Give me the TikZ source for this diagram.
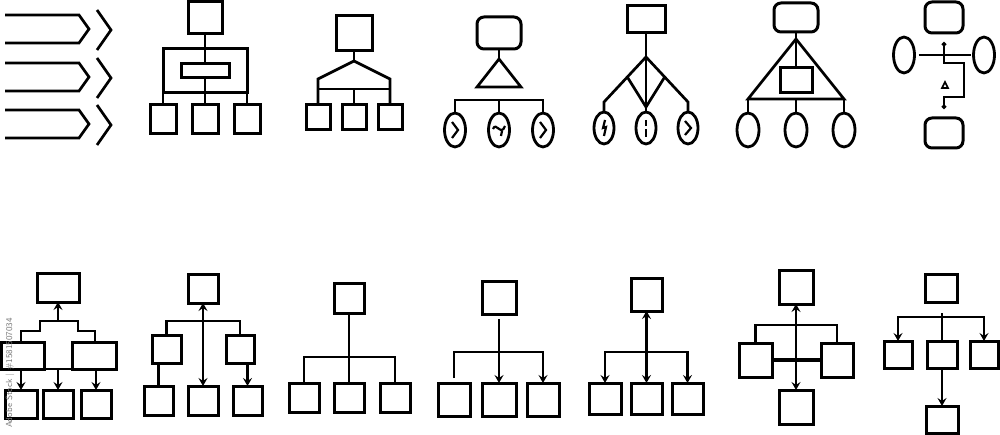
\documentclass[tikz,border=0pt]{standalone}
\usetikzlibrary{arrows.meta,shapes.geometric}
\newcommand\mkbox[6][bx]{\node[#1, minimum width={#5-#3}, minimum height={#6-#4}] (#2) at ({(#3+#5)/2},{(#4+#6)/2}) {};}
\definecolor{wmgray}{HTML}{7A7A7A}
\tikzset{
  bx/.style={draw, rectangle, line width=3pt, inner sep=0pt, outer sep=0pt},
  rbx/.style={bx, rounded corners=7pt},
  ell/.style={draw, ellipse, line width=2.8pt, inner sep=0pt, outer sep=0pt},
  ln/.style={line width=2.7pt, line join=miter},
  gl/.style={line width=2.2pt},
  tip/.tip={Stealth[length=8pt,width=9pt,inset=3pt]},
  arr/.style={ln, -tip},
  darr/.style={ln, tip-tip},
}
\begin{document}
\begin{tikzpicture}[x=1pt,y=-1pt]
\fill[white] (0,0) rectangle (1000,435);
\useasboundingbox (0,0) rectangle (1000,435);

% ---- icon 1: arrows
\foreach \y in {15,63,110}{
  \draw[ln] (5,\y) -- (79,\y) -- (89,\y+14) -- (79,\y+28) -- (5,\y+28);
  \draw[ln] (97,\y-5) -- (111,\y+15) -- (97,\y+35);
}

% ---- icon 2
\mkbox{b2t}{188}{2}{222}{34}
\mkbox{b2o}{163}{49}{247}{93}
\mkbox{b2i}{181}{64}{229}{78}
\mkbox{b2a}{150}{105}{176}{134}
\mkbox{b2b}{192}{105}{218}{134}
\mkbox{b2c}{234}{105}{260}{134}
\draw[ln] (b2t.south) -- (b2o.north);
\draw[ln] (b2o.north) -- (b2i.north);
\draw[ln] (b2i.south) -- (b2o.south);
\draw[ln] (b2o.south) -- (b2b.north);
\draw[ln] (b2o.south west) -- (b2a.north);
\draw[ln] (b2o.south east) -- (b2c.north);

% ---- icon 3
\mkbox{b3t}{336}{16}{372}{51}
\coordinate (j3) at (354,61);
\coordinate (k3l) at (318,79);
\coordinate (k3r) at (390,79);
\coordinate (h3m) at (354,89);
\mkbox{b3a}{306}{105}{330}{130}
\mkbox{b3b}{342}{105}{366}{130}
\mkbox{b3c}{378}{105}{402}{130}
\draw[ln] (b3t.south) -- (j3);
\draw[ln] (b3a.north) -- (k3l) -- (j3) -- (k3r) -- (b3c.north);
\draw[ln] (k3l |- h3m) -- (k3r |- h3m);
\draw[ln] (h3m) -- (b3b.north);

% ---- icon 4
\mkbox[rbx]{b4t}{477}{17}{521}{49}
\coordinate (t4a) at (499,59);
\coordinate (t4l) at (477,87);
\coordinate (t4r) at (521,87);
\draw[ln] (t4a) -- (t4l) -- (t4r) -- cycle;
\draw[ln] (b4t.south) -- (t4a);
\node[ell, minimum width=21, minimum height=34] (e4a) at (455,130) {};
\node[ell, minimum width=21, minimum height=34] (e4b) at (499,130) {};
\node[ell, minimum width=21, minimum height=34] (e4c) at (543,130) {};
\coordinate (h4) at (499,100);
\draw[ln] (e4a.north) -- (e4a.north |- h4) -- (e4c.north |- h4) -- (e4c.north);
\draw[ln] (h4) -- (e4b.north);
\draw[gl] (452,122) -- (458,130) -- (452,138);
\draw[gl] (540,122) -- (546,130) -- (540,138);
\draw[gl] (493,129) .. controls (496,121) and (501,137) .. (505,126);
\draw[gl] (502,131) -- (501,136);

% ---- icon 5
\mkbox{b5t}{627}{6}{665}{33}
\coordinate (j5) at (646,57);
\coordinate (p5l) at (604,102);
\coordinate (p5r) at (688,102);
\coordinate (m5l) at (627.3,77);
\coordinate (m5r) at (664.7,77);
\coordinate (d5) at (646,107);
\node[ell, minimum width=20, minimum height=32] (e5a) at (604,128) {};
\node[ell, minimum width=20, minimum height=32] (e5b) at (646,128) {};
\node[ell, minimum width=20, minimum height=32] (e5c) at (688,128) {};
\draw[ln] (b5t.south) -- (j5) -- (d5);
\draw[ln] (e5a.north) -- (p5l) -- (j5) -- (p5r) -- (e5c.north);
\draw[ln] (m5l) -- (d5) -- (m5r);
\draw[ln] (d5) -- (e5b.north);
\draw[gl] (605,120) -- (603,128) -- (606,127) -- (604,136);
\draw[gl] (646,120) -- (646,126);
\draw[gl] (646,129) -- (646,137);
\draw[gl] (685,121) -- (691,128) -- (685,135);

% ---- icon 6
\mkbox[rbx]{b6t}{774}{3}{818}{32}
\coordinate (a6) at (796,39);
\coordinate (t6l) at (748,99);
\coordinate (t6r) at (844,99);
\draw[ln] (a6) -- (t6l) -- (t6r) -- cycle;
\draw[ln] (b6t.south) -- (a6);
\mkbox{b6i}{780}{68}{812}{93}
\draw[ln] (a6) -- (b6i.north);
\node[ell, minimum width=22, minimum height=34] (e6a) at (748,130) {};
\node[ell, minimum width=22, minimum height=34] (e6b) at (796,130) {};
\node[ell, minimum width=22, minimum height=34] (e6c) at (844,130) {};
\draw[ln] (t6l) -- (e6a.north);
\draw[ln] (a6 |- t6l) -- (e6b.north);
\draw[ln] (t6r) -- (e6c.north);

% ---- icon 7
\mkbox[rbx]{b7t}{925}{2}{963}{33}
\mkbox[rbx]{b7b}{925}{118}{963}{148}
\node[ell, minimum width=21, minimum height=36] (e7l) at (904,55) {};
\node[ell, minimum width=21, minimum height=36] (e7r) at (984,55) {};
\draw[ln] ([xshift=4pt]e7l.east) -- ([xshift=-3pt]e7r.west);
\coordinate (q7t) at (944,42);
\coordinate (q7b) at (944,109);
\draw[line width=2.2pt, {Circle[length=4.5pt]}-{Circle[length=4.5pt]}] (q7t) |- (964,63) |- (944,97) -- (q7b);
\draw[line width=1.6pt] (942,88) -- (948,88) -- (945,82) -- cycle;

% ---- icon 8
\mkbox{b8t}{37}{274}{79}{302}
\mkbox{m8a}{1.5}{342}{44}{369}
\mkbox{m8b}{72}{342}{116}{369}
\mkbox{c8a}{5}{390}{37}{418}
\mkbox{c8b}{43}{390}{73}{418}
\mkbox{c8c}{81}{390}{111}{418}
\coordinate (s8) at (58,321);
\draw[arr] (s8) -- (b8t.south);
\draw[ln] (c8a.north |- m8a.north) -- ++(0,-11) -| (40,321) -- (78,321) |- (95,331) -- (95,342);
\draw[ln] (m8a.south east) -- (m8b.south west);
\draw[arr] (c8a.north |- m8a.south) -- (c8a.north);
\draw[arr] (c8b.north |- m8a.south) -- (c8b.north);
\draw[arr] (c8c.north |- m8a.south) -- (c8c.north);

% ---- icon 9
\mkbox{b9t}{188}{275}{218}{303}
\mkbox{m9a}{152}{335}{181}{363}
\mkbox{m9b}{226}{335}{254}{363}
\mkbox{c9a}{144}{386}{173}{415}
\mkbox{c9b}{188}{386}{218}{415}
\mkbox{c9c}{233}{386}{262}{415}
\coordinate (h9) at (203,321);
\draw[darr] (b9t.south) -- (c9b.north);
\draw[ln] (m9a.north) |- (h9) -| (m9b.north);
\draw[ln] (m9a.south -| c9a.north) -- (c9a.north);
\draw[arr] (m9b.south -| c9c.north) -- (c9c.north);

% ---- icon 10
\mkbox{b10t}{334}{284}{364}{313}
\mkbox{c10a}{289}{383}{319}{412}
\mkbox{c10b}{334}{383}{364}{412}
\mkbox{c10c}{380}{383}{410}{412}
\coordinate (h10) at (349,357);
\draw[ln] (b10t.south) -- (c10b.north);
\draw[ln] (c10a.north) |- (h10) -| (c10c.north);

% ---- icon 11
\mkbox{b11t}{482}{282}{516}{314}
\mkbox{c11a}{438}{383}{470}{416}
\mkbox{c11b}{482}{383}{516}{416}
\mkbox{c11c}{527}{383}{559}{416}
\coordinate (s11) at (499,319);
\coordinate (h11) at (499,352);
\coordinate (e11) at (454,378);
\draw[arr] (s11) -- (c11b.north);
\draw[arr] (e11) |- (h11) -| (c11c.north);

% ---- icon 12
\mkbox{b12t}{631}{279}{662}{311}
\mkbox{c12a}{589}{383}{621}{414}
\mkbox{c12b}{631}{383}{662}{414}
\mkbox{c12c}{672}{383}{703}{414}
\coordinate (h12) at (646.5,352);
\draw[darr] (b12t.south) -- (c12b.north);
\draw[arr] (h12) -| (c12a.north);
\draw[arr] (h12) -| (c12c.north);

% ---- icon 13
\mkbox{b13t}{779}{271}{813}{304}
\mkbox{c13}{779}{390}{813}{424}
\mkbox{m13a}{739}{343}{772}{377}
\mkbox{m13b}{821}{343}{853}{377}
\coordinate (h13) at (796,325);
\draw[darr] (b13t.south) -- (c13.north);
\draw[ln] (m13a.north) |- (h13) -| (m13b.north);
\draw[line width=3.6pt] (m13a.east) -- (m13b.west);

% ---- icon 14
\mkbox{b14t}{925}{275}{957}{302}
\mkbox{c14a}{884}{341}{912}{368}
\mkbox{c14b}{927}{341}{957}{368}
\mkbox{c14c}{970}{341}{998}{368}
\mkbox{c14d}{926}{406}{958}{433}
\coordinate (s14) at (942,313);
\coordinate (h14) at (942,317);
\draw[ln] (s14) -- (c14b.north);
\draw[arr] (h14) -| (c14a.north);
\draw[arr] (h14) -| (c14c.north);
\draw[arr] (c14b.south) -- (c14d.north);

% ---- vertical stock id text
\node[rotate=90, text=wmgray, font=\sffamily\fontsize{8.8}{10}\selectfont, inner sep=0pt] (wm) at (10,373) {Adobe Stock | \#1581507034};
\end{tikzpicture}
\end{document}
